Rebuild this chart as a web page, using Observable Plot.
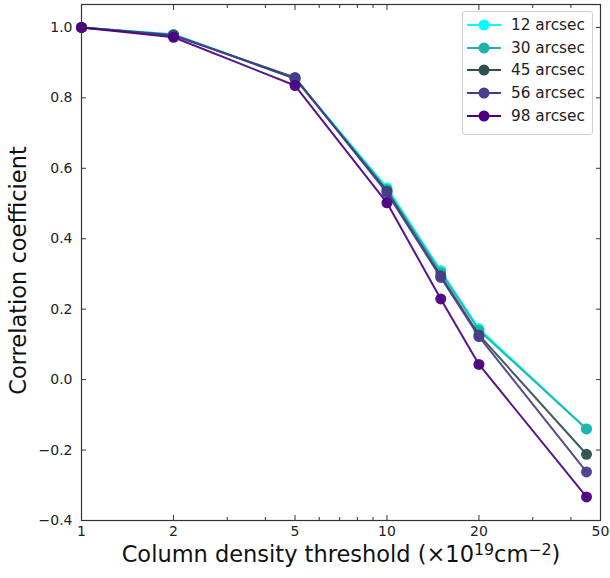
<!DOCTYPE html>
<html>
<head>
<meta charset="utf-8">
<script src="https://cdn.jsdelivr.net/npm/d3@7"></script>
<script src="https://cdn.jsdelivr.net/npm/@observablehq/plot@0.6"></script>
<style>
  html, body { margin: 0; padding: 0; background: white; }
  #wrap { position: relative; width: 610px; height: 578px; font-family: "DejaVu Sans", sans-serif; }
  #legend { position: absolute; left: 462px; top: 11px; width: 131px; height: 124px;
    border: 1px solid #d0d0d0; border-radius: 3px; background: rgba(255,255,255,0.85); box-sizing: border-box; }
  .row { position: absolute; left: 0; height: 22px; display: flex; align-items: center; }
  .row svg { margin-left: 4px; }
  .row span { margin-left: 10px; font-size: 15.3px; color: #222; }
</style>
</head>
<body>
<div id="wrap"></div>
<script>
const thresholds = [1, 2, 5, 10, 15, 20, 45];
const seriesLabels = ["12 arcsec", "30 arcsec", "45 arcsec", "56 arcsec", "98 arcsec"];
const seriesColors = ["#00ffff", "#20b2aa", "#2f4f4f", "#483d8b", "#4b0082"];
const s12 = [1.0, 0.980, 0.855, 0.545, 0.310, 0.145, -0.140];
const s30 = [1.0, 0.980, 0.855, 0.540, 0.305, 0.140, -0.140];
const s45 = [1.0, 0.978, 0.855, 0.535, 0.295, 0.127, -0.212];
const s56 = [1.0, 0.977, 0.858, 0.530, 0.290, 0.122, -0.262];
const s98 = [1.0, 0.972, 0.835, 0.502, 0.229, 0.043, -0.333];
const seriesValues = [s12, s30, s45, s56, s98];
const xMajor = [1, 2, 5, 10, 20, 50];
const xMinor = [3, 4, 6, 7, 8, 9, 30, 40];
const yTicks = [-0.4, -0.2, 0.0, 0.2, 0.4, 0.6, 0.8, 1.0];
const xLabel = "Column density threshold (×10¹⁹cm⁻²)";
const yLabel = "Correlation coefficient";

const fmtY = d => d.toFixed(1).replace("-", "\u2212");

const seriesMarks = [];
seriesValues.forEach((vals, i) => {
  const data = thresholds.map((t, j) => ({x: t, y: vals[j]}));
  seriesMarks.push(Plot.line(data, {x: "x", y: "y", stroke: seriesColors[i], strokeWidth: 2, strokeOpacity: 0.92}));
  seriesMarks.push(Plot.dot(data, {x: "x", y: "y", fill: seriesColors[i], r: 5.5, fillOpacity: 0.95}));
});

const chart = Plot.plot({
  width: 610, height: 578,
  marginLeft: 81, marginRight: 10, marginTop: 4, marginBottom: 58,
  style: {fontFamily: "DejaVu Sans", fontSize: "14px", color: "#222", background: "white"},
  x: {type: "log", domain: [1, 50]},
  y: {domain: [-0.4, 1.065]},
  marks: [
    ...seriesMarks,
    Plot.frame({stroke: "#333", strokeWidth: 1.2}),
    Plot.axisX({ticks: xMajor, tickSize: 0, tickPadding: 6, tickFormat: d => String(d), fontSize: 14, label: null}),
    Plot.axisX({ticks: xMajor, anchor: "bottom", tickSize: 5, dy: -5, tickFormat: () => "", label: null, stroke: "#333"}),
    Plot.axisX({ticks: xMinor, anchor: "bottom", tickSize: 3, dy: -3, tickFormat: () => "", label: null, stroke: "#333"}),
    Plot.axisX({ticks: xMajor, anchor: "top", tickSize: 5, dy: 5, tickFormat: () => "", label: null, stroke: "#333"}),
    Plot.axisX({ticks: xMinor, anchor: "top", tickSize: 3, dy: 3, tickFormat: () => "", label: null, stroke: "#333"}),
    Plot.axisY({ticks: yTicks, tickSize: 0, tickPadding: 9, tickFormat: fmtY, fontSize: 14, label: null}),
    Plot.axisY({ticks: yTicks, anchor: "left", tickSize: 5, dx: 5, tickFormat: () => "", label: null, stroke: "#333"}),
    Plot.axisY({ticks: yTicks, anchor: "right", tickSize: 5, dx: -5, tickFormat: () => "", label: null, stroke: "#333"}),
    Plot.text([xLabel], {text: d => d, frameAnchor: "bottom", dy: 41, fontSize: 22.5, fill: "#111", textAnchor: "middle"}),
    Plot.text([yLabel], {text: d => d, frameAnchor: "left", dx: -63, dy: 8, rotate: -90, fontSize: 22.5, fill: "#111", textAnchor: "middle"})
  ]
});

// Render the x label's exponents as raised superscripts, like the original mathtext.
d3.select(chart).selectAll("text").filter(function() { return this.textContent === xLabel; })
  .each(function() {
    const t = d3.select(this);
    t.text(null);
    t.append("tspan").text("Column density threshold (×10");
    t.append("tspan").attr("dy", "-0.42em").attr("font-size", "0.7em").text("19");
    t.append("tspan").attr("dy", "0.3em").text("cm");
    t.append("tspan").attr("dy", "-0.42em").attr("font-size", "0.7em").text("\u22122");
    t.append("tspan").attr("dy", "0.3em").text(")");
  });

const wrap = document.getElementById("wrap");
wrap.appendChild(chart);

const legend = document.createElement("div");
legend.id = "legend";
seriesLabels.forEach((lab, i) => {
  const row = document.createElement("div");
  row.className = "row";
  row.style.top = (2 + i * 22.7) + "px";
  row.innerHTML = `<svg width="34" height="14"><line x1="0" y1="7" x2="34" y2="7" stroke="${seriesColors[i]}" stroke-width="2"/><circle cx="17" cy="7" r="5.5" fill="${seriesColors[i]}"/></svg><span>${lab}</span>`;
  legend.appendChild(row);
});
wrap.appendChild(legend);
</script>
</body>
</html>
